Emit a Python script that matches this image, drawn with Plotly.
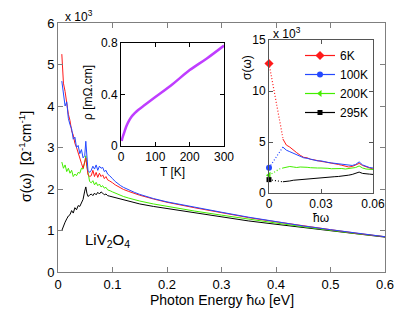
import plotly.graph_objects as go

# ---------------- data ----------------
# main panel: photon energy (eV) and sigma (units of 1e3 Ohm^-1 cm^-1)
energy_eV = [0.007, 0.010, 0.013, 0.016, 0.019, 0.022, 0.025, 0.028, 0.031, 0.034,
             0.037, 0.040, 0.043, 0.046, 0.049, 0.051, 0.053, 0.055, 0.058, 0.061,
             0.064, 0.067, 0.070, 0.073, 0.076, 0.079, 0.082, 0.085, 0.088, 0.091,
             0.094, 0.097, 0.100, 0.105, 0.110, 0.115, 0.120, 0.130, 0.140, 0.150,
             0.175, 0.200, 0.250, 0.300, 0.350, 0.400, 0.450, 0.500, 0.550, 0.600]

sigma_6K = [5.25, 4.55, 4.35, 4.05, 3.80, 3.65, 3.40, 3.30, 3.10, 3.00,
            2.85, 2.70, 2.62, 2.50, 2.62, 2.75, 2.55, 2.35, 2.30, 2.32,
            2.45, 2.30, 2.40, 2.28, 2.38, 2.30, 2.34, 2.25, 2.30, 2.22,
            2.20, 2.18, 2.15, 2.10, 2.06, 2.02, 1.99, 1.94, 1.89, 1.85,
            1.76, 1.68, 1.55, 1.43, 1.31, 1.21, 1.11, 1.02, 0.93, 0.85]

sigma_100K = [4.60, 4.30, 4.00, 4.10, 3.70, 3.55, 3.45, 3.20, 3.25, 3.00,
              3.05, 2.85, 2.95, 2.75, 2.80, 3.15, 2.70, 2.45, 2.40, 2.45,
              2.55, 2.48, 2.58, 2.45, 2.55, 2.50, 2.52, 2.42, 2.45, 2.36,
              2.33, 2.28, 2.25, 2.18, 2.12, 2.08, 2.04, 1.97, 1.92, 1.87,
              1.77, 1.69, 1.56, 1.44, 1.32, 1.21, 1.11, 1.02, 0.93, 0.85]

sigma_200K = [2.65, 2.50, 2.58, 2.42, 2.50, 2.38, 2.45, 2.30, 2.36, 2.32,
              2.40, 2.38, 2.50, 2.48, 2.65, 2.80, 2.55, 2.35, 2.18, 2.15,
              2.20, 2.10, 2.16, 2.08, 2.12, 2.05, 2.08, 2.02, 2.04, 1.98,
              1.97, 1.95, 1.93, 1.90, 1.87, 1.84, 1.82, 1.78, 1.74, 1.71,
              1.64, 1.58, 1.47, 1.37, 1.27, 1.18, 1.09, 1.00, 0.92, 0.85]

sigma_295K = [1.00, 1.12, 1.20, 1.28, 1.35, 1.38, 1.48, 1.42, 1.55, 1.50,
              1.60, 1.58, 1.68, 1.75, 1.95, 2.05, 1.90, 1.82, 1.85, 1.88,
              1.84, 1.90, 1.86, 1.92, 1.88, 1.93, 1.90, 1.86, 1.88, 1.84,
              1.83, 1.82, 1.81, 1.79, 1.77, 1.75, 1.73, 1.70, 1.67, 1.64,
              1.58, 1.53, 1.42, 1.32, 1.23, 1.15, 1.07, 0.99, 0.91, 0.84]

# inset 1: resistivity vs temperature
temp_K = [2, 5, 10, 15, 20, 30, 40, 50, 70, 100, 150, 200, 250, 300]
rho_mOhm_cm = [0.04, 0.07, 0.11, 0.15, 0.18, 0.225, 0.255, 0.28, 0.32, 0.38, 0.48, 0.59, 0.68, 0.78]

# inset 2: low-energy sigma (units of 1e3)
dc_energy = [0.0]
sigma_dc = {"6K": 12.7, "100K": 2.47, "200K": 1.74, "295K": 1.31}

extrap_energy = [0.0, 0.002, 0.004, 0.006, 0.008]
extrap_6K = [12.7, 10.8, 8.9, 7.1, 5.4]
extrap_100K = [2.47, 3.0, 3.5, 4.0, 4.5]
extrap_200K = [1.74, 1.95, 2.15, 2.35, 2.45]
extrap_295K = [1.31, 1.25, 1.20, 1.15, 1.10]

low_energy = [0.008, 0.010, 0.012, 0.014, 0.016, 0.018, 0.020, 0.022, 0.024, 0.026,
              0.028, 0.030, 0.032, 0.034, 0.036, 0.038, 0.040, 0.042, 0.044, 0.046,
              0.048, 0.050, 0.052, 0.054, 0.056, 0.058, 0.060]
low_6K = [5.3, 4.7, 4.5, 4.2, 3.95, 3.7, 3.5, 3.45, 3.3, 3.25,
          3.15, 3.1, 3.05, 3.0, 2.95, 2.85, 2.8, 2.72, 2.65, 2.55,
          2.6, 2.75, 2.9, 2.7, 2.55, 2.45, 2.35]
low_100K = [4.5, 4.2, 4.05, 3.9, 3.7, 3.6, 3.45, 3.4, 3.3, 3.25,
            3.15, 3.15, 3.05, 3.0, 2.95, 2.9, 2.85, 2.8, 2.75, 2.7,
            2.7, 2.8, 3.05, 2.75, 2.6, 2.5, 2.45]
low_200K = [2.45, 2.55, 2.6, 2.55, 2.5, 2.55, 2.5, 2.52, 2.48, 2.5,
            2.45, 2.45, 2.4, 2.42, 2.38, 2.4, 2.35, 2.4, 2.35, 2.4,
            2.45, 2.5, 2.65, 2.45, 2.35, 2.35, 2.3]
low_295K = [1.1, 1.12, 1.18, 1.25, 1.28, 1.32, 1.35, 1.4, 1.45, 1.48,
            1.5, 1.52, 1.55, 1.55, 1.58, 1.6, 1.62, 1.65, 1.7, 1.75,
            1.82, 1.95, 2.05, 1.92, 1.85, 1.85, 1.82]

labels = ["6K", "100K", "200K", "295K"]
colors = {"6K": "#ff1a1a", "100K": "#2448ff", "200K": "#44ee00", "295K": "#000000"}
symbols = {"6K": "diamond", "100K": "circle", "200K": "triangle-left", "295K": "square"}
msize = {"6K": 7, "100K": 6, "200K": 6, "295K": 5}

main_series = {"6K": sigma_6K, "100K": sigma_100K, "200K": sigma_200K, "295K": sigma_295K}
extrap_series = {"6K": extrap_6K, "100K": extrap_100K, "200K": extrap_200K, "295K": extrap_295K}
low_series = {"6K": low_6K, "100K": low_100K, "200K": low_200K, "295K": low_295K}

FONT = "Liberation Sans, Arial, sans-serif"

fig = go.Figure()

# main curves
for lab in ["295K", "200K", "6K", "100K"]:
    fig.add_trace(go.Scatter(x=energy_eV, y=main_series[lab], mode="lines",
                             line=dict(color=colors[lab], width=1),
                             showlegend=False, xaxis="x", yaxis="y"))

# inset 1
fig.add_trace(go.Scatter(x=temp_K, y=rho_mOhm_cm, mode="lines",
                         line=dict(color="#bf3dff", width=2.5, shape="spline"),
                         showlegend=False, xaxis="x2", yaxis="y2"))

# inset 2
for lab in labels:
    fig.add_trace(go.Scatter(x=extrap_energy, y=extrap_series[lab], mode="lines",
                             line=dict(color=colors[lab], width=1.2, dash="1px,2px"),
                             showlegend=False, xaxis="x3", yaxis="y3"))
    fig.add_trace(go.Scatter(x=low_energy, y=low_series[lab], mode="lines",
                             line=dict(color=colors[lab], width=1),
                             showlegend=False, xaxis="x3", yaxis="y3"))
for lab in labels:
    fig.add_trace(go.Scatter(x=dc_energy, y=[sigma_dc[lab]], mode="lines+markers", name=lab,
                             line=dict(color=colors[lab], width=1.2),
                             marker=dict(color=colors[lab], symbol=symbols[lab], size=msize[lab]),
                             cliponaxis=False, showlegend=True, xaxis="x3", yaxis="y3"))

# geometry: page has an 8px body margin, so the figure is drawn at (8, 8).
# target plot area in page pixels: x 58..385, y 23..272
OFF = 8
W, H = 415 - OFF, 312 - OFF
L, T = 58 - OFF, 23 - OFF
R, B = W - (385 - OFF), H - (272 - OFF)
pw, ph = W - L - R, H - T - B

def px(x):  # page pixel -> paper x
    return (x - OFF - L) / pw

def py(y):  # page pixel -> paper y
    return (H - B - (y - OFF)) / ph

axis_main = dict(showgrid=False, zeroline=False, ticks="inside", ticklen=5,
                 showline=True, linecolor="#7f7f7f", linewidth=1, mirror="ticks",
                 tickcolor="#7f7f7f", tickfont=dict(size=13, color="#000"))
axis_in1 = dict(showgrid=False, zeroline=False, ticks="inside", ticklen=4,
                showline=True, linecolor="#000", linewidth=1, mirror="ticks",
                tickcolor="#000", tickfont=dict(size=12, color="#000"))
axis_in2 = dict(axis_in1)
axis_in2.update(linecolor="#555555", tickcolor="#555555")

fig.update_layout(
    width=W, height=H,
    margin=dict(l=L, r=R, t=T, b=B, autoexpand=False),
    paper_bgcolor="white", plot_bgcolor="white",
    font=dict(family=FONT, size=13, color="#000"),
    xaxis=dict(axis_main, range=[0, 0.6], tickvals=[0, 0.1, 0.2, 0.3, 0.4, 0.5, 0.6],
               ticktext=["0", "0.1", "0.2", "0.3", "0.4", "0.5", "0.6"], domain=[0, 1]),
    yaxis=dict(axis_main, range=[0, 6], tickvals=[0, 1, 2, 3, 4, 5, 6], domain=[0, 1]),
    xaxis2=dict(axis_in1, range=[0, 300], tickvals=[0, 100, 200, 300],
                domain=[px(121), px(224)], anchor="y2"),
    yaxis2=dict(axis_in1, range=[0, 0.8], tickvals=[0, 0.4, 0.8], ticktext=["0", "0.4", "0.8"],
                domain=[py(146), py(43)], anchor="x2"),
    xaxis3=dict(axis_in2, range=[0, 0.06], tickvals=[0, 0.03, 0.06], ticktext=["0", "0.03", "0.06"],
                domain=[px(269), px(373)], anchor="y3"),
    yaxis3=dict(axis_in2, range=[0, 15], tickvals=[0, 5, 10, 15],
                domain=[py(193), py(40)], anchor="x3"),
    legend=dict(x=px(300), y=py(41), xanchor="left", yanchor="top",
                bgcolor="rgba(255,255,255,0)", borderwidth=0, font=dict(size=12),
                tracegroupgap=0, itemwidth=30),
)

ann = [
    dict(text="Photon Energy ħω [eV]", x=px(222), y=py(300), font=dict(size=14)),
    dict(text="σ(ω)  [Ω<sup>-1</sup>cm<sup>-1</sup>]", x=px(25), y=py(157), textangle=-90,
         font=dict(size=14)),
    dict(text="x 10<sup>3</sup>", x=px(63), y=py(16), xanchor="left", font=dict(size=12)),
    dict(text="LiV<sub>2</sub>O<sub>4</sub>", x=px(107), y=py(240), font=dict(size=15)),
    dict(text="ρ [mΩ.cm]", x=px(88), y=py(93), textangle=-90, font=dict(size=12)),
    dict(text="T [K]", x=px(172), y=py(172), font=dict(size=12)),
    dict(text="σ(ω)", x=px(247), y=py(68), textangle=-90, font=dict(size=12)),
    dict(text="ħω", x=px(321), y=py(218), font=dict(size=12)),
    dict(text="x 10<sup>3</sup>", x=px(271), y=py(33), xanchor="left", font=dict(size=12)),
]
for a in ann:
    a.setdefault("xanchor", "center")
    fig.add_annotation(xref="paper", yref="paper", showarrow=False, yanchor="middle", **a)

fig.write_html("out.html")
